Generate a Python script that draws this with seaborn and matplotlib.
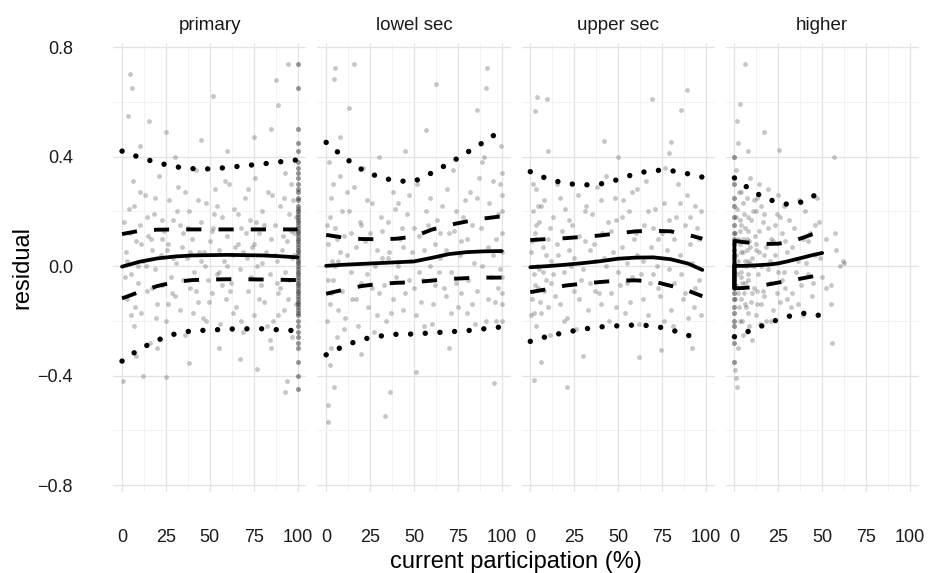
import matplotlib
matplotlib.use("Agg")
import matplotlib.pyplot as plt
import seaborn as sns
import pandas as pd

# =========================
# Data
# =========================

panels = ["primary", "lowel sec", "upper sec", "higher"]

x_ticks = [0, 25, 50, 75, 100]
x_tick_labels = ["0", "25", "50", "75", "100"]
y_ticks = [-0.8, -0.4, 0.0, 0.4, 0.8]
y_tick_labels = ["\u22120.8", "\u22120.4", "0.0", "0.4", "0.8"]

# residual points per panel (x = participation, y = residual)
primary_pts = [
    (2, 0.05), (3, -0.12), (4, 0.21), (5, -0.03), (6, 0.31), (7, -0.22), (8, 0.09), (9, -0.06), (10, 0.15), (11, -0.17),
    (12, 0.02), (13, 0.26), (14, -0.09), (15, 0.11), (16, -0.28), (17, 0.06), (18, 0.19), (19, -0.01), (20, -0.14), (21, 0.33),
    (22, 0.04), (23, -0.07), (24, 0.13), (25, -0.2), (26, 0.08), (27, 0.24), (28, -0.04), (29, 0.17), (30, -0.11), (31, 0.01),
    (32, 0.29), (33, -0.16), (34, 0.07), (35, 0.12), (36, -0.25), (37, 0.03), (38, 0.2), (39, -0.08), (40, 0.1), (41, -0.02),
    (42, 0.35), (43, -0.13), (44, 0.05), (45, 0.16), (46, -0.19), (47, 0.0), (48, 0.23), (49, -0.05), (50, 0.09), (51, -0.1),
    (52, 0.14), (53, 0.28), (54, -0.03), (55, 0.06), (56, -0.21), (57, 0.18), (58, 0.02), (59, -0.12), (60, 0.11), (61, 0.3),
    (62, -0.06), (63, 0.04), (64, 0.21), (65, -0.15), (66, 0.08), (67, -0.01), (68, 0.14), (69, -0.24), (70, 0.25), (71, 0.03),
    (72, -0.09), (73, 0.17), (74, 0.07), (75, -0.18), (76, 0.32), (77, 0.0), (78, 0.12), (79, -0.07), (80, 0.2), (81, -0.13),
    (82, 0.05), (83, 0.27), (84, -0.03), (85, 0.1), (86, -0.2), (87, 0.15), (88, 0.02), (89, -0.1), (90, 0.22), (91, 0.06),
    (92, -0.16), (93, 0.34), (94, 0.09), (95, -0.05), (96, 0.13), (97, -0.26), (98, 0.04), (99, 0.18),
    (1.5, -0.04), (4.5, 0.12), (7.5, -0.15), (10.5, 0.27), (13.5, 0.0), (16.5, 0.1), (19.5, -0.19), (22.5, 0.17),
    (25.5, 0.06), (28.5, -0.1), (31.5, 0.2), (34.5, -0.05), (37.5, 0.14), (40.5, -0.17), (43.5, 0.24), (46.5, 0.05),
    (49.5, -0.13), (52.5, 0.19), (55.5, -0.02), (58.5, 0.31), (61.5, -0.09), (64.5, 0.07), (67.5, -0.2), (70.5, 0.12),
    (73.5, -0.04), (76.5, 0.16), (79.5, 0.01), (82.5, -0.22), (85.5, 0.26), (88.5, -0.06), (91.5, 0.11), (94.5, -0.12), (97.5, 0.24),
    (1, 0.16), (3, 0.02), (5, -0.18), (7, 0.22), (9, 0.0), (11, 0.08), (14, 0.18), (17, -0.08), (19, 0.25), (23, 0.1),
    (26, -0.14), (29, 0.03), (33, 0.15), (36, 0.27), (39, 0.05), (42, -0.09), (45, 0.02), (48, -0.2), (51, 0.13), (54, 0.22),
    (57, -0.07), (60, 0.0), (63, -0.17), (66, 0.19), (69, 0.05), (72, 0.28), (75, 0.08), (78, -0.12), (81, 0.15), (84, -0.27),
    (87, 0.04), (90, -0.08), (93, -0.02), (96, 0.3), (99, -0.14), (98, 0.12), (97, 0.03), (95, 0.19), (92, 0.25), (89, -0.18),
    (4.6, 0.70), (5.5, 0.65), (3.6, 0.55), (15.6, 0.53), (25.2, 0.49), (51.8, 0.62), (87.9, 0.68), (88.8, 0.59),
    (94.3, 0.74), (85, 0.50), (10, 0.44), (45, 0.46), (60, 0.42), (75, 0.47), (30, 0.40),
    (0.5, -0.42), (12.2, -0.40), (25, -0.405), (38, -0.355), (67.4, -0.34), (76.9, -0.375), (93, -0.46), (94, -0.42),
    (20, -0.3), (55, -0.3), (85, -0.3), (8, -0.33),
]
# the pile of schools at exactly 100 %
primary_strip = [0.74, 0.65, 0.5, 0.45, 0.42, 0.38, 0.36, 0.34, 0.32, 0.3, 0.28, 0.27, 0.25, 0.24, 0.22, 0.21, 0.2,
                 0.19, 0.18, 0.17, 0.16, 0.15, 0.14, 0.13, 0.12, 0.11, 0.1, 0.09, 0.08, 0.07, 0.06, 0.05, 0.04, 0.03,
                 0.02, 0.01, 0.0, -0.01, -0.02, -0.03, -0.04, -0.05, -0.06, -0.07, -0.08, -0.09, -0.1, -0.11, -0.12,
                 -0.13, -0.14, -0.15, -0.16, -0.17, -0.18, -0.2, -0.22, -0.24, -0.26, -0.28, -0.3, -0.35, -0.4, -0.45]

lowel_pts = [
    (1, 0.08), (2, -0.14), (3, 0.25), (4, -0.05), (5, 0.14), (6, -0.26), (7, 0.02), (8, 0.33), (9, -0.09), (10, 0.11),
    (11, -0.19), (12, 0.04), (13, 0.2), (14, -0.02), (15, -0.12), (16, 0.29), (17, 0.07), (18, -0.22), (19, 0.16), (20, -0.06),
    (22, 0.09), (24, -0.15), (26, 0.23), (28, 0.0), (30, -0.1), (32, 0.13), (34, -0.2), (36, 0.05), (38, 0.27), (40, -0.04),
    (42, 0.1), (44, -0.16), (46, 0.19), (48, 0.02), (50, -0.08), (52, 0.3), (54, -0.13), (56, 0.06), (58, 0.15), (60, -0.21),
    (62, 0.08), (64, -0.02), (66, 0.22), (68, -0.11), (70, 0.12), (72, 0.35), (74, -0.06), (76, 0.04), (78, 0.18), (80, -0.17),
    (82, 0.27), (84, 0.01), (86, -0.09), (88, 0.14), (90, 0.4), (91, -0.2), (92, 0.07), (93, 0.23), (94, -0.04), (95, 0.31),
    (96, -0.13), (97, 0.1), (98, 0.19), (99, -0.01), (100, 0.05), (100, -0.1), (100, 0.2), (100, 0.34), (100, -0.2), (99.5, 0.44),
    (21, 0.36), (23, -0.03), (25, 0.12), (27, -0.24), (29, 0.06), (31, 0.18), (33, -0.07), (35, 0.03), (37, -0.17), (39, 0.21),
    (41, 0.0), (43, 0.14), (45, -0.1), (47, 0.26), (49, 0.05), (51, -0.18), (53, 0.11), (55, -0.05), (57, 0.2), (59, 0.0),
    (61, -0.14), (63, 0.17), (65, 0.03), (67, -0.08), (69, 0.28), (71, -0.02), (73, 0.13), (75, -0.15), (77, 0.09), (79, 0.24),
    (81, -0.05), (83, 0.15), (85, -0.21), (87, 0.32), (89, 0.0), (0.5, -0.2), (0.5, 0.15), (1.5, 0.38), (2.5, -0.3), (3.5, 0.02),
    (1, -0.05), (2, 0.18), (3, -0.1), (4, 0.3), (5, 0.0), (6, 0.1), (7, -0.16), (8, 0.05), (9, 0.2), (10, -0.23),
    (12, 0.27), (14, 0.12), (17, -0.12), (20, 0.15), (23, 0.24), (26, -0.08), (29, -0.18), (32, 0.03), (35, 0.16), (38, -0.12),
    (41, 0.23), (44, 0.07), (47, -0.05), (50, 0.14), (53, -0.02), (56, -0.22), (59, 0.25), (62, -0.07), (65, 0.12), (68, 0.06),
    (71, -0.17), (74, 0.2), (77, -0.1), (80, 0.1), (83, -0.14), (86, 0.25), (89, 0.38), (92, -0.12), (95, 0.04), (98, -0.08),
    (99, 0.3), (97, -0.2), (100, 0.12), (100, -0.04), (100, 0.26), (100, -0.14),
    (4.2, 0.684), (5.1, 0.724), (15.6, 0.738), (12.8, 0.578), (8, 0.47), (62.3, 0.664), (91.8, 0.724), (90.9, 0.651),
    (86, 0.571), (56.6, 0.498), (36.6, -0.46), (33.7, -0.547), (1.3, -0.507), (1, -0.57), (4.2, -0.44), (95.6, -0.427),
    (50.9, -0.388), (20, -0.32), (70, -0.3), (45, 0.42), (2, -0.36), (30, 0.4),
]

upper_pts = [
    (0.5, 0.05), (1, -0.12), (1.5, 0.2), (2, -0.03), (2.5, 0.12), (3, -0.22), (3.5, 0.28), (4, 0.0), (4.5, -0.08), (5, 0.16),
    (6, -0.17), (7, 0.07), (8, 0.24), (9, -0.05), (10, 0.1), (11, -0.25), (12, 0.02), (13, 0.18), (14, -0.11), (15, 0.3),
    (16, 0.04), (17, -0.14), (18, 0.13), (19, -0.02), (20, 0.21), (21, -0.19), (22, 0.06), (23, 0.0), (24, 0.15), (25, -0.09),
    (27, 0.26), (29, -0.05), (31, 0.09), (33, -0.16), (35, 0.19), (37, 0.02), (39, -0.1), (41, 0.12), (43, 0.33), (45, -0.2),
    (47, 0.05), (49, 0.17), (51, -0.07), (53, 0.24), (55, 0.01), (57, -0.13), (59, 0.1), (61, 0.28), (63, -0.03), (65, 0.15),
    (67, -0.18), (69, 0.07), (71, 0.21), (73, -0.08), (75, 0.12), (77, 0.36), (79, -0.01), (81, -0.22), (83, 0.18), (85, 0.04),
    (87, -0.12), (89, 0.26), (91, 0.08), (93, -0.15), (95, 0.14), (96, -0.05), (97, 0.2), (26, -0.23), (28, 0.11), (30, -0.01),
    (32, 0.22), (34, -0.06), (36, 0.08), (38, 0.29), (40, -0.14), (42, 0.03), (44, 0.16), (46, -0.1), (48, 0.25), (50, -0.02),
    (52, 0.07), (54, -0.17), (56, 0.2), (58, -0.04), (60, 0.12), (62, -0.21), (64, 0.02), (66, 0.31), (68, -0.06), (70, 0.14),
    (72, 0.0), (74, -0.11), (76, 0.23), (78, 0.06), (80, -0.16), (82, 0.1), (84, 0.3), (86, -0.03), (88, 0.15), (90, -0.19),
    (92, 0.01), (94, 0.22), (1, 0.09), (2, -0.17), (3, 0.15), (5, -0.01), (6, 0.22), (8, -0.09), (9, 0.04), (12, -0.06),
    (0.5, -0.18), (1.5, 0.3), (2.5, -0.07), (3.5, 0.1), (4.5, 0.22), (5.5, -0.13), (7, -0.02), (10, -0.15), (11, 0.14), (13, -0.03),
    (15, 0.08), (17, 0.25), (19, -0.2), (22, 0.17), (25, 0.03), (28, -0.12), (31, 0.2), (34, 0.06), (37, -0.09), (40, 0.24),
    (43, 0.0), (46, 0.13), (49, -0.15), (52, 0.18), (55, -0.06), (58, 0.27), (61, 0.04), (64, -0.12), (67, 0.2), (70, -0.03),
    (73, 0.1), (76, -0.2), (79, 0.17), (82, -0.06), (85, 0.23), (88, -0.1), (91, 0.18), (94, -0.08), (96, 0.1), (97, -0.18),
    (3.8, 0.618), (9.5, 0.611), (2.9, 0.565), (41.9, 0.458), (20.9, -0.44), (1.9, -0.415), (89.5, 0.644), (85.7, 0.571),
    (69.5, 0.611), (80, 0.452), (79, 0.412), (74.3, -0.307), (62, -0.332), (10, 0.42), (30, -0.33), (50, 0.4), (92, -0.3), (6, -0.35),
]

higher_pts = [
    (0.5, 0.12), (1, -0.07), (1.5, 0.21), (2, 0.02), (2.5, -0.15), (3, 0.08), (3.5, -0.02), (4, 0.27), (4.5, -0.2), (5, 0.05),
    (5.5, -0.1), (6, 0.14), (6.5, 0.0), (7, -0.24), (7.5, 0.18), (8, -0.05), (8.5, 0.09), (9, 0.32), (9.5, -0.13), (10, 0.03),
    (10.5, 0.2), (11, -0.08), (11.5, 0.11), (12, -0.18), (12.5, 0.06), (13, 0.25), (13.5, -0.03), (14, 0.13), (14.5, -0.21), (15, 0.0),
    (16, 0.16), (17, -0.11), (18, 0.07), (19, 0.28), (20, -0.06), (21, 0.1), (22, -0.16), (23, 0.04), (24, 0.19), (25, -0.02),
    (26, -0.13), (27, 0.12), (28, 0.22), (29, -0.08), (30, 0.05), (32, -0.15), (34, 0.14), (36, 0.02), (38, -0.07), (40, 0.2),
    (42, 0.09), (44, -0.11), (46, 0.04), (48, 0.16), (50, -0.04), (52, 0.1), (55, -0.14), (58, 0.06), (60, 0.0), (62, 0.02),
    (1, 0.35), (2, -0.3), (3, 0.17), (4, -0.12), (5, 0.23), (6, -0.06), (7, 0.1), (8, -0.17), (9, 0.01), (10, -0.27),
    (11, 0.24), (12, 0.08), (13, -0.09), (14, 0.3), (15, -0.14), (17, 0.19), (19, -0.01), (21, -0.2), (23, 0.15), (25, 0.26),
    (27, -0.05), (29, 0.09), (31, 0.17), (33, -0.1), (35, -0.02), (37, 0.24), (39, -0.18), (41, 0.01), (43, 0.12), (45, -0.06),
    (47, 0.25), (49, 0.03), (1, 0.04), (2, -0.1), (3, 0.13), (4, -0.04), (5, 0.1), (6, -0.14), (7, 0.06), (8, 0.02),
    (0.5, -0.12), (1, 0.18), (1.5, -0.03), (2, 0.1), (2.5, 0.27), (3, -0.2), (3.5, 0.05), (4, 0.15), (4.5, -0.06), (5, -0.25),
    (5.5, 0.19), (6, 0.02), (6.5, -0.15), (7, 0.25), (7.5, -0.03), (8, 0.13), (8.5, -0.22), (9, 0.07), (9.5, 0.17), (10, -0.1),
    (11, 0.0), (12, 0.2), (13, -0.14), (14, 0.05), (15, 0.22), (16, -0.09), (17, 0.04), (18, -0.2), (19, 0.14), (20, 0.02),
    (22, 0.09), (24, -0.1), (26, 0.18), (28, -0.02), (30, -0.12), (33, 0.07), (36, -0.14), (39, 0.1), (42, -0.03), (46, 0.15),
    (52, -0.08), (57, 0.12),
    (6.3, 0.738), (3.4, 0.591), (1.5, 0.531), (16.7, 0.491), (25.4, 0.425), (56.7, 0.398), (62.4, 0.012), (54.9, -0.068),
    (55.8, -0.281), (1.5, -0.441), (1, -0.41), (2, 0.45), (0.5, -0.38), (8, 0.42),
]
# the pile of schools at exactly 0 %
higher_strip = [0.4, 0.3, 0.25, 0.22, 0.18, 0.15, 0.12, 0.1, 0.08, 0.06, 0.04, 0.03, 0.01, 0.0, -0.02, -0.04,
                -0.05, -0.07, -0.08, -0.1, -0.12, -0.15, -0.17, -0.2, -0.22, -0.28, -0.35]

# quantile curves (5 %, 25 %, 50 %, 75 %, 95 %)
grid_x = [0, 10, 20, 30, 40, 50, 60, 70, 80, 90, 100]
primary_q05 = [-0.347, -0.303, -0.271, -0.248, -0.236, -0.234, -0.23, -0.229, -0.229, -0.233, -0.236]
primary_q25 = [-0.118, -0.094, -0.073, -0.058, -0.051, -0.049, -0.048, -0.048, -0.049, -0.05, -0.051]
primary_q50 = [-0.002, 0.016, 0.028, 0.035, 0.039, 0.04, 0.041, 0.04, 0.039, 0.036, 0.032]
primary_q75 = [0.117, 0.129, 0.133, 0.134, 0.134, 0.134, 0.134, 0.134, 0.134, 0.134, 0.134]
primary_q95 = [0.42, 0.397, 0.378, 0.363, 0.356, 0.355, 0.36, 0.367, 0.373, 0.381, 0.388]

lowel_q05 = [-0.324, -0.292, -0.268, -0.256, -0.249, -0.248, -0.244, -0.24, -0.236, -0.229, -0.222]
lowel_q25 = [-0.101, -0.086, -0.073, -0.065, -0.061, -0.059, -0.053, -0.047, -0.044, -0.042, -0.042]
lowel_q50 = [0.001, 0.005, 0.008, 0.011, 0.014, 0.017, 0.03, 0.044, 0.051, 0.054, 0.055]
lowel_q75 = [0.114, 0.104, 0.099, 0.098, 0.1, 0.108, 0.133, 0.15, 0.163, 0.174, 0.182]
lowel_q95 = [0.452, 0.398, 0.354, 0.325, 0.311, 0.309, 0.34, 0.375, 0.414, 0.454, 0.497]

upper_x = [0, 10, 20, 30, 40, 50, 60, 70, 80, 90, 98]
upper_q05 = [-0.275, -0.256, -0.242, -0.23, -0.222, -0.218, -0.215, -0.218, -0.232, -0.253, -0.272]
upper_q25 = [-0.095, -0.084, -0.071, -0.064, -0.058, -0.053, -0.052, -0.056, -0.072, -0.09, -0.11]
upper_q50 = [-0.004, 0.0, 0.005, 0.011, 0.018, 0.027, 0.031, 0.032, 0.025, 0.009, -0.014]
upper_q75 = [0.095, 0.099, 0.102, 0.107, 0.112, 0.12, 0.127, 0.129, 0.127, 0.114, 0.1]
upper_q95 = [0.345, 0.318, 0.302, 0.296, 0.3, 0.316, 0.338, 0.35, 0.349, 0.337, 0.325]

higher_x = [0, 5, 10, 15, 20, 25, 30, 35, 40, 45, 50]
higher_q05 = [-0.258, -0.246, -0.233, -0.22, -0.207, -0.195, -0.185, -0.177, -0.172, -0.174, -0.184]
higher_q25 = [-0.081, -0.08, -0.077, -0.072, -0.066, -0.06, -0.055, -0.049, -0.043, -0.037, -0.031]
higher_q50 = [0.001, 0.001, 0.002, 0.004, 0.006, 0.01, 0.017, 0.025, 0.033, 0.041, 0.048]
higher_q75 = [0.092, 0.088, 0.084, 0.082, 0.081, 0.082, 0.086, 0.095, 0.106, 0.118, 0.13]
higher_q95 = [0.322, 0.298, 0.276, 0.257, 0.243, 0.232, 0.226, 0.228, 0.238, 0.256, 0.275]
# median curve in "higher" starts with a vertical run at 0 %
higher_q50_start = [0.092, -0.081]

# =========================
# Build tables
# =========================

rows = []
for name, pts in zip(panels, [primary_pts, lowel_pts, upper_pts, higher_pts]):
    for px, py in pts:
        rows.append({"panel": name, "x": px, "y": py})
points = pd.DataFrame(rows)

strip_rows = [{"panel": "primary", "x": 100, "y": py} for py in primary_strip]
strip_rows += [{"panel": "higher", "x": 0, "y": py} for py in higher_strip]
strips = pd.DataFrame(strip_rows)

curves = {
    "primary": (grid_x, primary_q05, primary_q25, primary_q50, primary_q75, primary_q95),
    "lowel sec": (grid_x, lowel_q05, lowel_q25, lowel_q50, lowel_q75, lowel_q95),
    "upper sec": (upper_x, upper_q05, upper_q25, upper_q50, upper_q75, upper_q95),
    "higher": (higher_x, higher_q05, higher_q25, higher_q50, higher_q75, higher_q95),
}

# =========================
# Plot
# =========================

sns.set_theme(style="white")
plt.rcParams['font.family'] = ['Liberation Sans', 'DejaVu Sans']

fig, axes = plt.subplots(1, 4, figsize=(9.29, 5.73), dpi=100, sharey=True)
fig.subplots_adjust(left=0.1219, right=0.9890, top=0.9250, bottom=0.1414, wspace=0.057)

dot_style = (0, (0.01, 2.7))
dash_style = (0, (3.9, 4.4))

for ax, name in zip(axes, panels):
    sub = points[points["panel"] == name]
    sns.scatterplot(data=sub, x="x", y="y", ax=ax, color="#444444", alpha=0.3,
                    s=12, linewidth=0, legend=False, zorder=2)
    sub_strip = strips[strips["panel"] == name]
    if len(sub_strip):
        sns.scatterplot(data=sub_strip, x="x", y="y", ax=ax, color="#333333", alpha=0.5,
                        s=13, linewidth=0, legend=False, zorder=2)

    cx, q05, q25, q50, q75, q95 = curves[name]
    for q, ls, lw, cap in [(q05, dot_style, 3.9, "round"), (q95, dot_style, 3.9, "round"),
                           (q25, dash_style, 2.8, "butt"), (q75, dash_style, 2.8, "butt")]:
        sns.lineplot(x=cx, y=q, ax=ax, color="black", linewidth=lw, linestyle=ls,
                     dash_capstyle=cap, estimator=None, sort=False, zorder=3)
    if name == "higher":
        mx = [0, 0] + cx
        my = higher_q50_start + q50
    else:
        mx, my = cx, q50
    sns.lineplot(x=mx, y=my, ax=ax, color="black", linewidth=2.7,
                 estimator=None, sort=False, zorder=3)

    ax.set_xlim(-5, 105)
    ax.set_ylim(-0.825, 0.815)
    ax.set_xticks(x_ticks)
    ax.set_xticklabels(x_tick_labels)
    ax.set_xticks([12.5, 37.5, 62.5, 87.5], minor=True)
    ax.set_yticks(y_ticks)
    ax.set_yticklabels(y_tick_labels)
    ax.set_yticks([-0.6, -0.2, 0.2, 0.6], minor=True)
    ax.grid(which="major", color="#e3e3e3", linewidth=0.9)
    ax.grid(which="minor", color="#f0f0f0", linewidth=0.6)
    ax.set_axisbelow(True)
    for sp in ax.spines.values():
        sp.set_visible(False)
    ax.tick_params(which="both", length=0, labelsize=13, colors="#1a1a1a")
    ax.tick_params(axis="x", pad=27)
    ax.tick_params(axis="y", pad=29)
    ax.set_xlabel("")
    ax.set_ylabel("")
    ax.text(0.5, 1.04, name, transform=ax.transAxes, ha="center", va="center",
            fontsize=13.5, color="#1a1a1a")

fig.text(0.5555, 1 - 562 / 573, "current participation (%)", ha="center", va="center",
         fontsize=17, color="black")
fig.text(0.024, 0.534, "residual", ha="center", va="center", rotation=90,
         fontsize=17, color="black")

plt.savefig("out.png", dpi=100)
